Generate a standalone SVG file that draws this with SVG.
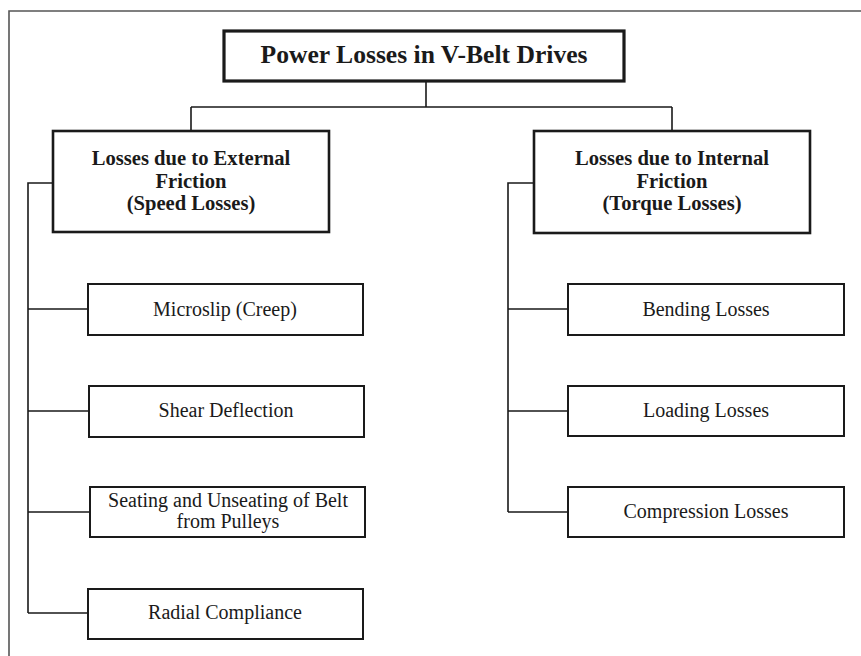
<svg xmlns="http://www.w3.org/2000/svg" width="861" height="656" viewBox="0 0 861 656">
<style>
.frame{fill:none;stroke:#555;stroke-width:1.6}
.box{fill:#fff;stroke:#1a1a1a}
.title{stroke-width:3.2}
.mid{stroke-width:2.6}
.child{stroke-width:2}
.conn{fill:none;stroke:#1a1a1a;stroke-width:1.6}
text{font-family:"Liberation Serif","DejaVu Serif",serif;fill:#1a1a1a;text-anchor:middle}
.t1{font-size:25.6px;font-weight:bold}
.t2{font-size:20.6px;font-weight:bold}
.t3{font-size:20px}
</style>
<rect width="861" height="656" fill="#fff"/>
<path class="frame" d="M9,656 V11 H861"/>
<g id="connectors">
<path class="conn" d="M426,81 V107 M191,107 H672 M191,107 V131 M672,107 V131"/>
<path class="conn" d="M53,183 H28 V613 M28,309 H88 M28,411 H89 M28,512 H90 M28,613 H88"/>
<path class="conn" d="M534,183 H508 V512 M508,309 H568 M508,411 H568 M508,512 H568"/>
</g>
<g id="title">
<rect class="box title" x="224" y="31" width="400" height="50"/>
<text class="t1" x="424" y="63">Power Losses in V-Belt Drives</text>
</g>
<g id="external">
<rect class="box mid" x="53" y="131" width="276" height="101"/>
<text class="t2" x="191" y="165">Losses due to External</text>
<text class="t2" x="191" y="188">Friction</text>
<text class="t2" x="191" y="210">(Speed Losses)</text>
</g>
<g id="internal">
<rect class="box mid" x="534" y="131" width="276" height="102"/>
<text class="t2" x="672" y="165">Losses due to Internal</text>
<text class="t2" x="672" y="188">Friction</text>
<text class="t2" x="672" y="210">(Torque Losses)</text>
</g>
<g id="microslip">
<rect class="box child" x="88" y="284" width="275" height="51"/>
<text class="t3" x="225" y="316">Microslip (Creep)</text>
</g>
<g id="shear">
<rect class="box child" x="89" y="386" width="275" height="51"/>
<text class="t3" x="226" y="417">Shear Deflection</text>
</g>
<g id="seating">
<rect class="box child" x="90" y="487" width="275" height="50"/>
<text class="t3" x="228" y="507">Seating and Unseating of Belt</text>
<text class="t3" x="228" y="528">from Pulleys</text>
</g>
<g id="radial">
<rect class="box child" x="88" y="589" width="275" height="50"/>
<text class="t3" x="225" y="619">Radial Compliance</text>
</g>
<g id="bending">
<rect class="box child" x="568" y="284" width="276" height="51"/>
<text class="t3" x="706" y="316">Bending Losses</text>
</g>
<g id="loading">
<rect class="box child" x="568" y="386" width="276" height="50"/>
<text class="t3" x="706" y="417">Loading Losses</text>
</g>
<g id="compression">
<rect class="box child" x="568" y="487" width="276" height="50"/>
<text class="t3" x="706" y="518">Compression Losses</text>
</g>
</svg>
